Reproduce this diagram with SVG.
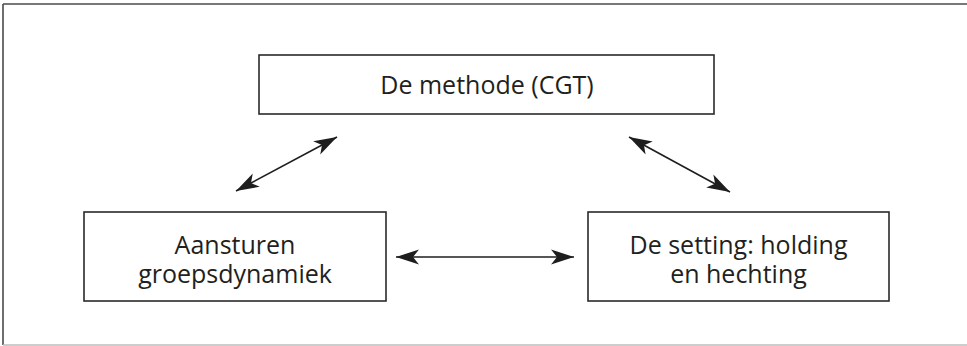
<svg xmlns="http://www.w3.org/2000/svg" width="967" height="346" viewBox="0 0 967 346">
<style>
.box{fill:#fff;stroke:#2a2a2a;stroke-width:1.6}
.lbl{font-family:"Open Sans","Noto Sans",sans-serif;font-size:25px;fill:#231f20;text-anchor:middle}
.conn{stroke:#1e1e1e;stroke-width:1.6;fill:none;marker-start:url(#ah);marker-end:url(#ah)}
</style>
<defs>
<marker id="ah" markerUnits="userSpaceOnUse" markerWidth="24" markerHeight="18" viewBox="0 0 24 18" refX="23" refY="9" orient="auto-start-reverse">
<path d="M0,1.5 L23,9 L0,16.5 L6,9 z" fill="#1e1e1e"/>
</marker>
</defs>
<rect width="967" height="346" fill="#fff"/>
<g id="frame">
<line x1="3" y1="4" x2="967" y2="4" stroke="#4a4a4a" stroke-width="1.6"/>
<line x1="3" y1="4" x2="3" y2="345" stroke="#4a4a4a" stroke-width="1.6"/>
<line x1="3" y1="345" x2="967" y2="345" stroke="#bdbdbd" stroke-width="1.6"/>
</g>
<g id="connectors">
<line class="conn" x1="236" y1="191" x2="337" y2="137"/>
<line class="conn" x1="629" y1="137" x2="730" y2="192"/>
<line class="conn" x1="396" y1="257" x2="574" y2="257"/>
</g>
<g id="node-methode">
<rect class="box" x="259" y="55" width="455" height="59"/>
<text class="lbl" x="487" y="94">De methode (CGT)</text>
</g>
<g id="node-aansturen">
<rect class="box" x="84" y="212" width="302" height="89"/>
<text class="lbl" x="235" y="254">Aansturen</text>
<text class="lbl" x="235" y="283">groepsdynamiek</text>
</g>
<g id="node-setting">
<rect class="box" x="588" y="212" width="301" height="89"/>
<text class="lbl" x="738.5" y="254">De setting: holding</text>
<text class="lbl" x="738.5" y="283">en hechting</text>
</g>
</svg>
